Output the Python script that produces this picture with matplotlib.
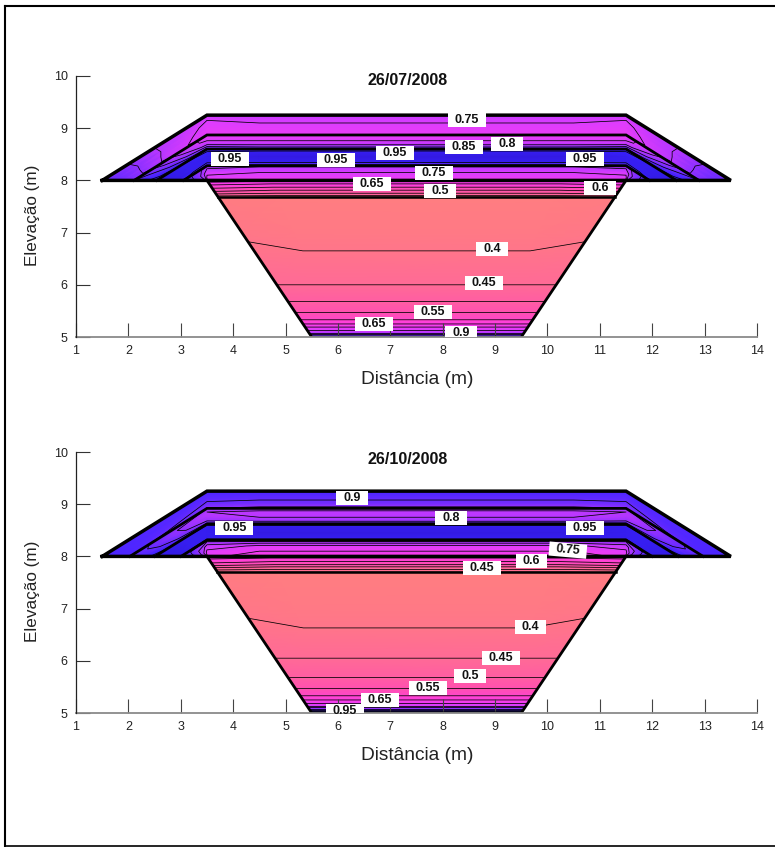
import numpy as np
import matplotlib
matplotlib.use("Agg")
import matplotlib.pyplot as plt
from matplotlib.colors import LinearSegmentedColormap, Normalize
from matplotlib.patches import Rectangle

plt.rcParams['font.family'] = ['Liberation Sans', 'DejaVu Sans']

W, H = 775, 847
TITLES = ["26/07/2008", "26/10/2008"]
X_TICKS = list(range(1, 15))
Y_TICKS = [5, 6, 7, 8, 9, 10]
LEVELS = [0.40, 0.45, 0.50, 0.55, 0.60, 0.65, 0.70, 0.75, 0.80, 0.85, 0.90, 0.95]

# colour stops (value, colour)
STOP_V = [0.35, 0.45, 0.55, 0.65, 0.75, 0.85, 0.95, 1.00]
STOP_C = ["#ff7f7f", "#ff6a96", "#ff50b0", "#ff3ce6", "#dc3cff", "#9632ff", "#3a22ff", "#2a10c0"]

# ---- geometry (m)
CREST_Z = 9.25
BERM_Z = 8.0
BASE_Z = 5.0
CREST_L, CREST_R = 3.5, 11.5
TOE_L, TOE_R = 1.5, 13.5
BASE_L, BASE_R = 5.5, 9.5
INNER_Z = [7.68, 7.70]
LAYERS_1 = [8.87, 8.60, 8.28]
LAYERS_2 = [8.92, 8.62, 8.31]

# ---- 26/07/2008 upper embankment: elevation, and water content at toe / mid slope / corner / centre
UP_Z_1 = [9.25, 9.20, 9.10, 9.00, 8.90, 8.87, 8.80, 8.70, 8.64, 8.60, 8.55, 8.45, 8.35, 8.30, 8.26, 8.15, 8.05, 8.00]
UP_TOE_1 = [.90, .90, .90, .89, .88, .90, .93, .95, .96, .97, .97, .97, .97, .96, .93, .90, .87, .85]
UP_MID_1 = [.80, .80, .80, .79, .78, .80, .82, .88, .92, .95, .96, .96, .96, .94, .88, .85, .84, .82]
UP_COR_1 = [.78, .76, .74, .73, .72, .73, .73, .78, .86, .92, .95, .96, .96, .92, .82, .76, .74, .74]
UP_CEN_1 = [.80, .77, .75, .73, .72, .72, .73, .78, .85, .92, .96, .97, .96, .90, .80, .75, .72, .70]

# ---- 26/07/2008 lower body: elevation, water content at centre / flank
LO_Z_1 = [8.00, 7.95, 7.90, 7.85, 7.80, 7.72, 7.68, 7.65, 7.00, 6.65, 6.00, 5.68, 5.47, 5.33, 5.25, 5.19, 5.13, 5.08, 5.05, 5.02, 5.00]
LO_CEN_1 = [.72, .66, .63, .58, .54, .47, .40, .36, .38, .40, .45, .50, .55, .60, .65, .70, .75, .80, .85, .90, .95]
LO_EDG_1 = [.74, .68, .64, .60, .56, .48, .41, .37, .39, .41, .45, .50, .55, .60, .65, .70, .75, .80, .85, .90, .95]

# ---- 26/10/2008 upper embankment
UP_Z_2 = [9.25, 9.18, 9.10, 9.00, 8.95, 8.92, 8.85, 8.75, 8.68, 8.64, 8.62, 8.58, 8.45, 8.35, 8.31, 8.28, 8.20, 8.10, 8.00]
UP_TOE_2 = [.92, .93, .93, .93, .93, .92, .92, .93, .95, .96, .97, .97, .97, .97, .96, .93, .92, .90, .88]
UP_MID_2 = [.92, .92, .92, .91, .90, .88, .86, .87, .90, .93, .95, .96, .96, .96, .94, .88, .85, .82, .80]
UP_COR_2 = [.93, .92, .91, .89, .87, .85, .80, .81, .85, .90, .93, .96, .96, .96, .93, .85, .78, .74, .72]
UP_CEN_2 = [.93, .92, .905, .88, .85, .82, .79, .80, .84, .90, .93, .96, .97, .96, .93, .83, .74, .70, .66]

# ---- 26/10/2008 lower body
LO_Z_2 = [8.00, 7.95, 7.90, 7.85, 7.80, 7.75, 7.70, 7.66, 7.00, 6.63, 6.05, 5.68, 5.47, 5.33, 5.25, 5.19, 5.14, 5.11, 5.08, 5.06, 5.03, 5.00]
LO_CEN_2 = [.68, .63, .60, .56, .50, .45, .40, .36, .38, .40, .45, .50, .55, .60, .65, .70, .75, .80, .85, .90, .95, .98]
LO_EDG_2 = [.70, .65, .62, .58, .52, .46, .41, .37, .39, .41, .45, .50, .55, .60, .65, .70, .75, .80, .85, .90, .95, .98]

# ---- contour labels
LAB_X_1 = [8.46, 3.94, 5.96, 7.09, 8.40, 9.23, 10.71, 7.83, 6.65, 7.95, 11.00, 8.94, 8.79, 7.81, 6.69, 8.35]
LAB_Y_1 = [9.16, 8.41, 8.39, 8.52, 8.64, 8.70, 8.41, 8.14, 7.93, 7.80, 7.85, 6.69, 6.03, 5.48, 5.25, 5.08]
LAB_T_1 = ["0.75", "0.95", "0.95", "0.95", "0.85", "0.8", "0.95", "0.75", "0.65", "0.5", "0.6", "0.4", "0.45", "0.55", "0.65", "0.9"]
LAB_R_1 = [0] * 16

LAB_X_2 = [6.27, 4.02, 8.16, 10.71, 10.39, 9.70, 8.75, 9.68, 9.11, 8.52, 7.72, 6.80, 6.13]
LAB_Y_2 = [9.12, 8.54, 8.74, 8.54, 8.12, 7.91, 7.78, 6.65, 6.05, 5.71, 5.48, 5.25, 5.04]
LAB_T_2 = ["0.9", "0.95", "0.8", "0.95", "0.75", "0.6", "0.45", "0.4", "0.45", "0.5", "0.55", "0.65", "0.95"]
LAB_R_2 = [0, 0, 0, 0, -5, 0, 0, 0, 0, 0, 0, 0, 0]

stops = [(v - STOP_V[0]) / (STOP_V[-1] - STOP_V[0]) for v in STOP_V]
cmap = LinearSegmentedColormap.from_list("seep", list(zip(stops, STOP_C)))
norm = Normalize(STOP_V[0], STOP_V[-1])


def layer_x(z):
    """x of the 8 stations along a layer line at elevation z."""
    run = (CREST_L - TOE_L) / (CREST_Z - BERM_Z) * (z - BERM_Z)
    xl = CREST_L - run
    xr = CREST_R + run
    return np.array([xl, (xl + CREST_L) / 2, CREST_L, 4.5, 10.5, CREST_R, (xr + CREST_R) / 2, xr])


def layer_y(z):
    run = z - BERM_Z
    return np.array([BERM_Z, BERM_Z + run / 2, z, z, z, z, BERM_Z + run / 2, BERM_Z])


def body_x(z):
    d = (BASE_L - CREST_L) / (BERM_Z - BASE_Z) * (BERM_Z - z)
    xl, xr = CREST_L + d, CREST_R - d
    return np.array([xl, xl + 0.15 * (xr - xl), xl + 0.85 * (xr - xl), xr])


def draw_panel(ax, title, layers, up, lo, labels, inner_z, top_px, title_y):
    uz, ut, um, uc, uce = [np.array(a) for a in up]
    X = np.array([layer_x(z) for z in uz])
    Y = np.array([layer_y(z) for z in uz])
    V = np.column_stack([ut, um, uc, uce, uce, uc, um, ut])
    ax.pcolormesh(X, Y, V, shading='gouraud', cmap=cmap, norm=norm, zorder=1)
    ax.contour(X, Y, V, levels=LEVELS, colors='black', linewidths=0.55, zorder=2)

    lz, lc, le = [np.array(a) for a in lo]
    X2 = np.array([body_x(z) for z in lz])
    Y2 = np.column_stack([lz] * 4)
    V2 = np.column_stack([le, lc, lc, le])
    ax.pcolormesh(X2, Y2, V2, shading='gouraud', cmap=cmap, norm=norm, zorder=1)
    ax.contour(X2, Y2, V2, levels=LEVELS, colors='black', linewidths=0.55, zorder=2)

    # material boundaries
    for z in layers:
        ax.plot(layer_x(z)[[0, 2, 5, 7]], layer_y(z)[[0, 2, 5, 7]], color='black', lw=2.0, zorder=3,
                solid_joinstyle='miter')
    ax.plot([TOE_L, CREST_L, CREST_R, TOE_R, TOE_L], [BERM_Z, CREST_Z, CREST_Z, BERM_Z, BERM_Z],
            color='black', lw=2.5, zorder=3, solid_joinstyle='miter')
    ax.plot([CREST_L, BASE_L, BASE_R, CREST_R], [BERM_Z, BASE_Z, BASE_Z, BERM_Z], color='black', lw=2.0,
            zorder=3, solid_joinstyle='miter')
    ix = body_x(inner_z)[[0, 3]]
    ax.plot(ix, [inner_z, inner_z], color='black', lw=1.8, zorder=3)

    for x, y, t, r in zip(*labels):
        w = 0.72 if len(t) == 4 else 0.60
        h = 0.27
        ax.add_patch(Rectangle((x - w / 2, y - h / 2), w, h, angle=r, rotation_point='center',
                               facecolor='white', edgecolor='none', zorder=5))
        ax.text(x, y, t, ha='center', va='center', rotation=r, fontsize=9, fontweight='bold',
                color='#111111', zorder=6)

    ax.set_xlim(1, 14)
    ax.set_ylim(5, 10)
    ax.set_xticks(X_TICKS)
    ax.set_yticks(Y_TICKS)
    for s in ('top', 'right'):
        ax.spines[s].set_visible(False)
    ax.spines['left'].set_color('#222222')
    ax.spines['bottom'].set_color('#8a8a8a')
    ax.spines['left'].set_linewidth(0.9)
    ax.spines['bottom'].set_linewidth(1.3)
    ax.spines['left'].set_zorder(7)
    ax.spines['bottom'].set_zorder(4)
    ax.set_axisbelow(False)
    ax.tick_params(axis='x', direction='in', length=10, width=0.8, color='#444444', labelsize=9,
                   labelcolor='#222222', pad=6)
    ax.tick_params(axis='y', direction='in', length=10, width=0.8, color='#333333', labelsize=9,
                   labelcolor='#222222', pad=6)
    fig.text(417 / W, 1 - (top_px + 303) / H, "Distância (m)", fontsize=13.8, color='#222222',
             ha='center', va='center')
    fig.text(33 / W, 1 - (top_px + 139) / H, "Elevação (m)", fontsize=12.3, color='#222222',
             rotation=90, ha='center', va='center')
    ax.text(7.33, title_y, title, ha='center', va='center', fontsize=11.5, fontweight='bold', color='#111111')
    ax.patch.set_alpha(0)


fig = plt.figure(figsize=(W / 100, H / 100), dpi=100, facecolor='white')
# outer frame
fig.add_artist(plt.Line2D([5 / W, 5 / W], [1 - 846 / H, 1 - 6 / H], color='black', lw=1.5))
fig.add_artist(plt.Line2D([4.5 / W, 1], [1 - 6 / H, 1 - 6 / H], color='black', lw=1.5))
fig.add_artist(plt.Line2D([4.5 / W, 1], [1 - 846 / H, 1 - 846 / H], color='black', lw=1.2))

ax1 = fig.add_axes([76 / W, 1 - 337 / H, 681 / W, 261 / H])
draw_panel(ax1, TITLES[0], LAYERS_1,
           (UP_Z_1, UP_TOE_1, UP_MID_1, UP_COR_1, UP_CEN_1), (LO_Z_1, LO_CEN_1, LO_EDG_1),
           (LAB_X_1, LAB_Y_1, LAB_T_1, LAB_R_1), INNER_Z[0], 76, 9.92)
ax2 = fig.add_axes([76 / W, 1 - 713 / H, 681 / W, 261 / H])
draw_panel(ax2, TITLES[1], LAYERS_2,
           (UP_Z_2, UP_TOE_2, UP_MID_2, UP_COR_2, UP_CEN_2), (LO_Z_2, LO_CEN_2, LO_EDG_2),
           (LAB_X_2, LAB_Y_2, LAB_T_2, LAB_R_2), INNER_Z[1], 452, 9.86)

fig.savefig("out.png", dpi=100)
